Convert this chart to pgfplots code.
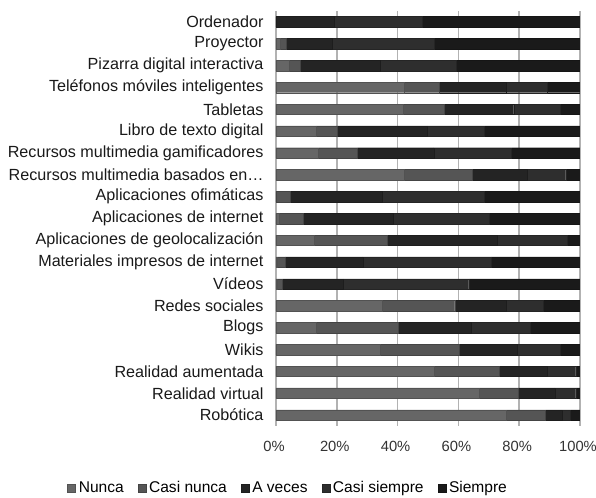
\documentclass[border=0pt]{standalone}
\usepackage{fontspec}
\setmainfont{Liberation Sans}
\usepackage{pgfplots}
\usepackage{pgfplotstable}
\pgfplotsset{compat=1.18}

\definecolor{cNunca}{HTML}{666666}
\definecolor{cCasiNunca}{HTML}{555555}
\definecolor{cAveces}{HTML}{242424}
\definecolor{cCasiSiempre}{HTML}{2E2E2E}
\definecolor{cSiempre}{HTML}{1A1A1A}

% idx: 0 = Ordenador (top) ... 18 = Robotica (bottom)
\pgfplotstableread{
idx n    cn   av   cs   s
0   0.0  0.0  19.0 29.0 52.0
1   1.3  2.2  15.0 33.4 48.1
2   4.4  3.7  26.2 25.0 40.7
3   42.3 11.4 22.0 13.5 10.8
4   41.8 13.4 23.0 15.4 6.4
5   13.2 6.8  29.7 18.9 31.4
6   14.0 12.8 25.1 25.5 22.6
7   42.3 22.4 18.0 12.6 4.7
8   0.0  4.6  30.4 33.6 31.4
9   1.0  8.0  29.7 31.3 30.0
10  12.5 24.0 36.2 23.1 4.2
11  0.5  2.5  25.6 42.2 29.2
12  0.3  1.9  19.9 41.3 36.6
13  34.8 24.0 17.0 12.1 12.1
14  13.2 27.1 24.0 19.2 16.5
15  34.3 26.0 19.0 14.3 6.4
16  52.1 21.2 16.0 9.3  1.4
17  67.0 12.7 12.0 6.9  1.4
18  75.8 12.9 5.5  2.7  3.1
}\datatable

\begin{document}
\begin{tikzpicture}[font=\fontsize{16.2}{19}\selectfont]
\begin{axis}[
    scale only axis,
    width=304bp, height=415bp,
    xbar stacked,
    bar width=10.5bp,
    xmin=0, xmax=100,
    ymin=-0.5, ymax=18.5,
    y dir=reverse,
    axis line style={draw=none},
    major tick length=0pt,
    xtick={0,20,40,60,80,100},
    xticklabels={0\%,20\%,40\%,60\%,80\%,100\%},
    xticklabel style={yshift=-12bp, xshift=-2bp, text=black!80,
      font=\fontsize{14.8}{17}\selectfont},
    ytick={0,...,18},
    yticklabels={Ordenador, Proyector, Pizarra digital interactiva,
      Teléfonos móviles inteligentes, Tabletas, Libro de texto digital,
      Recursos multimedia gamificadores, Recursos multimedia basados en…,
      Aplicaciones ofimáticas, Aplicaciones de internet,
      Aplicaciones de geolocalización, Materiales impresos de internet,
      Vídeos, Redes sociales, Blogs, Wikis, Realidad aumentada,
      Realidad virtual, Robótica},
    yticklabel style={xshift=-9bp, text=black!90},
    xmajorgrids,
    grid style={draw=black!30, line width=1.6pt},
    legend columns=5,
    legend style={draw=none, at={(0.04,-0.149)}, anchor=center,
      /tikz/every even column/.append style={column sep=12bp},
      /tikz/every odd column/.append style={column sep=1bp},
      font=\fontsize{15.6}{18}\selectfont},
    legend image code/.code={\fill[#1] (0bp,-4bp) rectangle (8bp,4bp);},
    legend cell align=left,
]
\addplot[fill=cNunca, draw=cNunca!80!black] table[x=n, y=idx] {\datatable};
\addplot[fill=cCasiNunca, draw=cCasiNunca!80!black] table[x=cn, y=idx] {\datatable};
\addplot[fill=cAveces, draw=cAveces!80!black] table[x=av, y=idx] {\datatable};
\addplot[fill=cCasiSiempre, draw=cCasiSiempre!80!black] table[x=cs, y=idx] {\datatable};
\addplot[fill=cSiempre, draw=cSiempre!80!black] table[x=s, y=idx] {\datatable};
\legend{Nunca, Casi nunca, A veces, Casi siempre, Siempre}
\end{axis}
\pgfresetboundingbox
\path[use as bounding box] (-276bp,-72bp) rectangle (320bp,426bp);
\end{tikzpicture}
\end{document}
